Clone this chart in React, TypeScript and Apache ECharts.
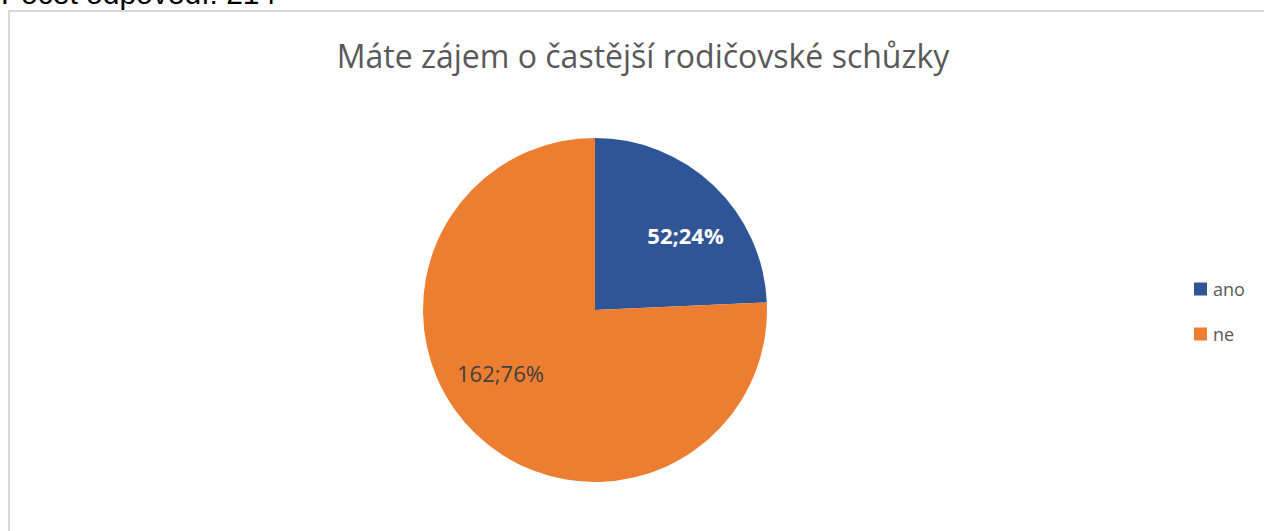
import React, { useEffect, useRef } from "react";
import * as echarts from "echarts";

const categories = ["ano", "ne"];
const values = [52, 162];
const colors = ["#2F5597", "#ED7D31"];
const titleText = "Máte zájem o častější rodičovské schůzky";
const headerText = "Počet odpovědí: 214";

export default function App() {
  const ref = useRef<HTMLDivElement>(null);
  useEffect(() => {
    if (!ref.current) return;
    const chart = echarts.init(ref.current, null, { renderer: "svg" });
    const total = values.reduce((a, b) => a + b, 0);
    chart.setOption({
      animation: false,
      title: {
        text: titleText,
        left: 638,
        textAlign: "center",
        top: 34,
        textStyle: { fontFamily: "Open Sans", fontSize: 32, fontWeight: "normal", color: "#595959" },
      },
      legend: {
        orient: "vertical",
        left: 1189,
        top: 275,
        itemWidth: 13,
        itemHeight: 13,
        itemGap: 27,
        icon: "rect",
        data: categories,
        textStyle: { fontFamily: "Open Sans", fontSize: 18, color: "#595959", padding: [0, 0, 0, 1] },
      },
      graphic: [
        {
          type: "rect",
          shape: { x: 9, y: 11, width: 1270, height: 540 },
          style: { fill: "none", stroke: "#d9d9d9", lineWidth: 2 },
        },
        {
          type: "text",
          x: 1,
          y: 8,
          style: {
            text: headerText,
            fontFamily: "Liberation Sans",
            fontSize: 30,
            fill: "#000",
            verticalAlign: "bottom",
          },
        },
      ],
      series: [
        {
          type: "pie",
          center: [595, 310],
          radius: 172,
          startAngle: 90,
          clockwise: true,
          data: categories.map((c, i) => ({
            name: c,
            value: values[i],
            itemStyle: { color: colors[i] },
            label: {
              color: i === 0 ? "#ffffff" : "#404040",
              fontWeight: i === 0 ? "bold" : "normal",
              offset: i === 0 ? [29, -11] : [-33, -1],
            },
          })),
          label: {
            show: true,
            position: "inside",
            fontFamily: "Open Sans",
            fontSize: 22,
            formatter: (p: any) => `${p.value};${Math.round((p.value / total) * 100)}%`,
          },
          labelLine: { show: false },
          emphasis: { disabled: true },
        },
      ],
    });
    return () => chart.dispose();
  }, []);
  return (
    <div
      ref={ref}
      style={{ position: "absolute", left: 0, top: 0, width: 1264, height: 531 }}
    />
  );
}
